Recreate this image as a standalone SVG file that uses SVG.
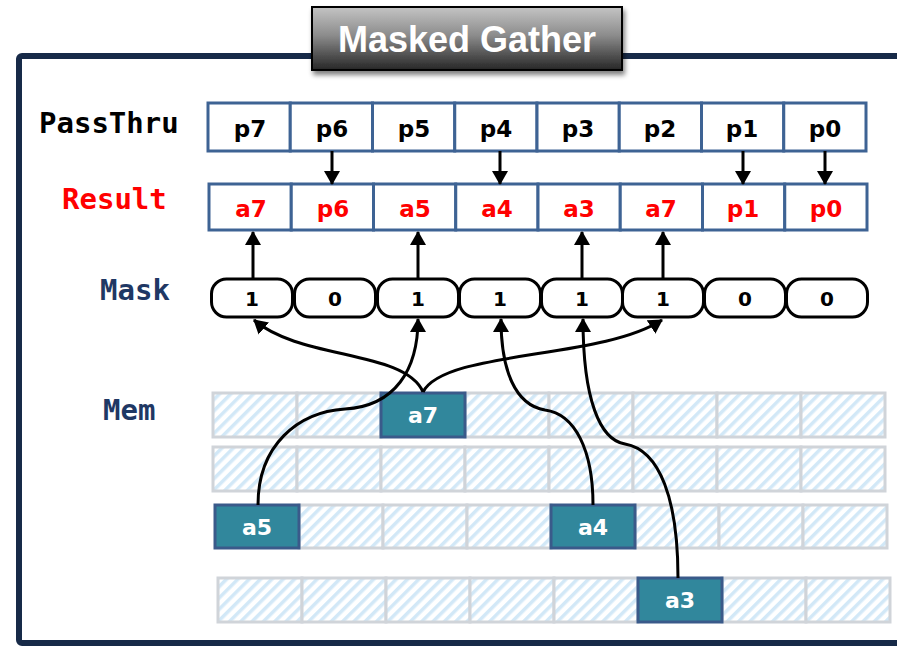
<svg xmlns="http://www.w3.org/2000/svg" width="897" height="646" viewBox="0 0 897 646">
  <style>
    .frame { fill: #ffffff; stroke: #172a48; stroke-width: 6; }
    .label { font-family: "DejaVu Sans Mono", "Liberation Mono", monospace; font-size: 29px; font-weight: bold; }
    .reg { fill: #ffffff; stroke: #3e6394; stroke-width: 3; }
    .regtxt { font-family: "DejaVu Sans", Verdana, sans-serif; font-size: 23px; font-weight: bold; text-anchor: middle; }
    .pill { fill: #ffffff; stroke: #000000; stroke-width: 3; }
    .pilltxt { font-family: "DejaVu Sans", Verdana, sans-serif; font-size: 20px; font-weight: bold; text-anchor: middle; fill: #000; }
    .mem { fill: url(#hatch); stroke: #d0d4d9; stroke-width: 3; }
    .data { fill: #31879c; stroke: #3a5a8a; stroke-width: 3; }
    .datatxt { font-family: "DejaVu Sans", Verdana, sans-serif; font-size: 22px; font-weight: bold; text-anchor: middle; fill: #ffffff; }
    .link { fill: none; stroke: #000000; stroke-width: 3; marker-end: url(#arrow); }
  </style>
  <defs>
    <pattern id="hatch" patternUnits="userSpaceOnUse" width="8" height="8" patternTransform="rotate(45)">
      <rect x="0" y="0" width="8" height="8" fill="#ffffff"/>
      <rect x="0" y="0" width="3.5" height="8" fill="#d2e8f7"/>
    </pattern>
    <linearGradient id="titleGrad" x1="0" y1="0" x2="0" y2="1">
      <stop offset="0" stop-color="#c4c4c4"/>
      <stop offset="0.45" stop-color="#8c8c8c"/>
      <stop offset="1" stop-color="#262626"/>
    </linearGradient>
    <filter id="shadow" x="-10%" y="-20%" width="120%" height="150%">
      <feGaussianBlur in="SourceAlpha" stdDeviation="2.5"/>
      <feOffset dx="2" dy="4" result="b"/>
      <feComponentTransfer><feFuncA type="linear" slope="0.5"/></feComponentTransfer>
      <feMerge><feMergeNode/><feMergeNode in="SourceGraphic"/></feMerge>
    </filter>
    <marker id="arrow" markerUnits="userSpaceOnUse" markerWidth="14" markerHeight="17" viewBox="0 -8.5 14 17" refX="13" refY="0" orient="auto">
      <path d="M0,-8 L14,0 L0,8 z" fill="#000000"/>
    </marker>
  </defs>

  <!-- outer frame -->
  <rect class="frame" x="19" y="56" width="900" height="587" rx="3"/>

  <!-- title plate -->
  <g id="title">
    <rect x="312" y="7" width="310" height="63" fill="url(#titleGrad)" stroke="#000" stroke-width="2" filter="url(#shadow)"/>
    <text x="467" y="52" text-anchor="middle" font-family="'Liberation Sans', Arial, sans-serif" font-size="36" font-weight="bold" fill="#ffffff">Masked Gather</text>
  </g>

  <!-- row labels -->
  <g id="labels">
    <text class="label" x="39" y="133" fill="#000000">PassThru</text>
    <text class="label" x="62" y="209" fill="#ff0000">Result</text>
    <text class="label" x="100" y="300" fill="#1f3864">Mask</text>
    <text class="label" x="103" y="420" fill="#1f3864">Mem</text>
  </g>

  <!-- PassThru register -->
  <g id="passthru">
    <rect class="reg" x="208" y="103" width="82.25" height="48"/>
    <rect class="reg" x="290.25" y="103" width="82.25" height="48"/>
    <rect class="reg" x="372.5" y="103" width="82.25" height="48"/>
    <rect class="reg" x="454.75" y="103" width="82.25" height="48"/>
    <rect class="reg" x="537" y="103" width="82.25" height="48"/>
    <rect class="reg" x="619.25" y="103" width="82.25" height="48"/>
    <rect class="reg" x="701.5" y="103" width="82.25" height="48"/>
    <rect class="reg" x="783.75" y="103" width="82.25" height="48"/>
    <g class="regtxt" fill="#000000">
      <text x="250" y="137">p7</text>
      <text x="332" y="137">p6</text>
      <text x="414" y="137">p5</text>
      <text x="496" y="137">p4</text>
      <text x="578" y="137">p3</text>
      <text x="660" y="137">p2</text>
      <text x="742" y="137">p1</text>
      <text x="825" y="137">p0</text>
    </g>
  </g>

  <!-- Result register -->
  <g id="result">
    <rect class="reg" x="209" y="184" width="82.25" height="46"/>
    <rect class="reg" x="291.25" y="184" width="82.25" height="46"/>
    <rect class="reg" x="373.5" y="184" width="82.25" height="46"/>
    <rect class="reg" x="455.75" y="184" width="82.25" height="46"/>
    <rect class="reg" x="538" y="184" width="82.25" height="46"/>
    <rect class="reg" x="620.25" y="184" width="82.25" height="46"/>
    <rect class="reg" x="702.5" y="184" width="82.25" height="46"/>
    <rect class="reg" x="784.75" y="184" width="82.25" height="46"/>
    <g class="regtxt" fill="#ff0000">
      <text x="251" y="217">a7</text>
      <text x="333" y="217">p6</text>
      <text x="415" y="217">a5</text>
      <text x="497" y="217">a4</text>
      <text x="579" y="217">a3</text>
      <text x="661" y="217">a7</text>
      <text x="743" y="217">p1</text>
      <text x="826" y="217">p0</text>
    </g>
  </g>

  <!-- Mask predicate -->
  <g id="mask">
    <rect class="pill" x="211.5" y="279" width="81" height="38" rx="15"/>
    <rect class="pill" x="294.5" y="279" width="81" height="38" rx="15"/>
    <rect class="pill" x="377.5" y="279" width="81" height="38" rx="15"/>
    <rect class="pill" x="459.5" y="279" width="81" height="38" rx="15"/>
    <rect class="pill" x="541.5" y="279" width="81" height="38" rx="15"/>
    <rect class="pill" x="622.5" y="279" width="81" height="38" rx="15"/>
    <rect class="pill" x="704.5" y="279" width="81" height="38" rx="15"/>
    <rect class="pill" x="786.5" y="279" width="81" height="38" rx="15"/>
    <text class="pilltxt" x="252" y="306">1</text>
    <text class="pilltxt" x="335" y="306">0</text>
    <text class="pilltxt" x="418" y="306">1</text>
    <text class="pilltxt" x="500" y="306">1</text>
    <text class="pilltxt" x="582" y="306">1</text>
    <text class="pilltxt" x="663" y="306">1</text>
    <text class="pilltxt" x="745" y="306">0</text>
    <text class="pilltxt" x="827" y="306">0</text>
  </g>

  <!-- Memory rows -->
  <g id="mem-row1">
    <rect class="mem" x="213" y="393" width="84" height="44"/>
    <rect class="mem" x="297" y="393" width="84" height="44"/>
    <rect class="mem" x="465" y="393" width="84" height="44"/>
    <rect class="mem" x="549" y="393" width="84" height="44"/>
    <rect class="mem" x="633" y="393" width="84" height="44"/>
    <rect class="mem" x="717" y="393" width="84" height="44"/>
    <rect class="mem" x="801" y="393" width="84" height="44"/>
  </g>
  <g id="mem-row2">
    <rect class="mem" x="213" y="447" width="84" height="44"/>
    <rect class="mem" x="297" y="447" width="84" height="44"/>
    <rect class="mem" x="381" y="447" width="84" height="44"/>
    <rect class="mem" x="465" y="447" width="84" height="44"/>
    <rect class="mem" x="549" y="447" width="84" height="44"/>
    <rect class="mem" x="633" y="447" width="84" height="44"/>
    <rect class="mem" x="717" y="447" width="84" height="44"/>
    <rect class="mem" x="801" y="447" width="84" height="44"/>
  </g>
  <g id="mem-row3">
    <rect class="mem" x="299" y="505" width="84" height="43"/>
    <rect class="mem" x="383" y="505" width="84" height="43"/>
    <rect class="mem" x="467" y="505" width="84" height="43"/>
    <rect class="mem" x="635" y="505" width="84" height="43"/>
    <rect class="mem" x="719" y="505" width="84" height="43"/>
    <rect class="mem" x="803" y="505" width="84" height="43"/>
  </g>
  <g id="mem-row4">
    <rect class="mem" x="218" y="578" width="84" height="44"/>
    <rect class="mem" x="302" y="578" width="84" height="44"/>
    <rect class="mem" x="386" y="578" width="84" height="44"/>
    <rect class="mem" x="470" y="578" width="84" height="44"/>
    <rect class="mem" x="554" y="578" width="84" height="44"/>
    <rect class="mem" x="722" y="578" width="84" height="44"/>
    <rect class="mem" x="806" y="578" width="84" height="44"/>
  </g>

  <!-- gathered elements -->
  <g id="a7">
    <rect class="data" x="381" y="393" width="84" height="44"/>
    <text class="datatxt" x="423" y="423">a7</text>
  </g>
  <g id="a5">
    <rect class="data" x="215" y="505" width="84" height="43"/>
    <text class="datatxt" x="257" y="535">a5</text>
  </g>
  <g id="a4">
    <rect class="data" x="551" y="505" width="84" height="43"/>
    <text class="datatxt" x="593" y="535">a4</text>
  </g>
  <g id="a3">
    <rect class="data" x="638" y="578" width="84" height="44"/>
    <text class="datatxt" x="680" y="608">a3</text>
  </g>

  <!-- connectors -->
  <g id="connectors">
    <!-- passthru lanes kept where mask is 0 -->
    <line class="link" x1="332" y1="151" x2="332" y2="184"/>
    <line class="link" x1="500" y1="151" x2="500" y2="184"/>
    <line class="link" x1="743" y1="151" x2="743" y2="184"/>
    <line class="link" x1="825" y1="151" x2="825" y2="184"/>
    <!-- active mask lanes into result -->
    <line class="link" x1="253" y1="279" x2="253" y2="232"/>
    <line class="link" x1="418" y1="279" x2="418" y2="232"/>
    <line class="link" x1="582" y1="279" x2="582" y2="232"/>
    <line class="link" x1="663" y1="279" x2="663" y2="232"/>
    <!-- memory loads into mask lanes -->
    <path class="link" d="M423,392 C405,350 300,360 254,320"/>
    <path class="link" d="M423,392 C445,350 600,360 662,320"/>
    <path class="link" d="M258,505 C258,445 298,412 345,409 C395,406 418,370 418,319"/>
    <path class="link" d="M593,505 C593,450 575,414 545,410 C515,405 501,370 501,319"/>
    <path class="link" d="M678,578 C678,500 660,450 625,444 C600,440 583,400 583,319"/>
  </g>
</svg>
